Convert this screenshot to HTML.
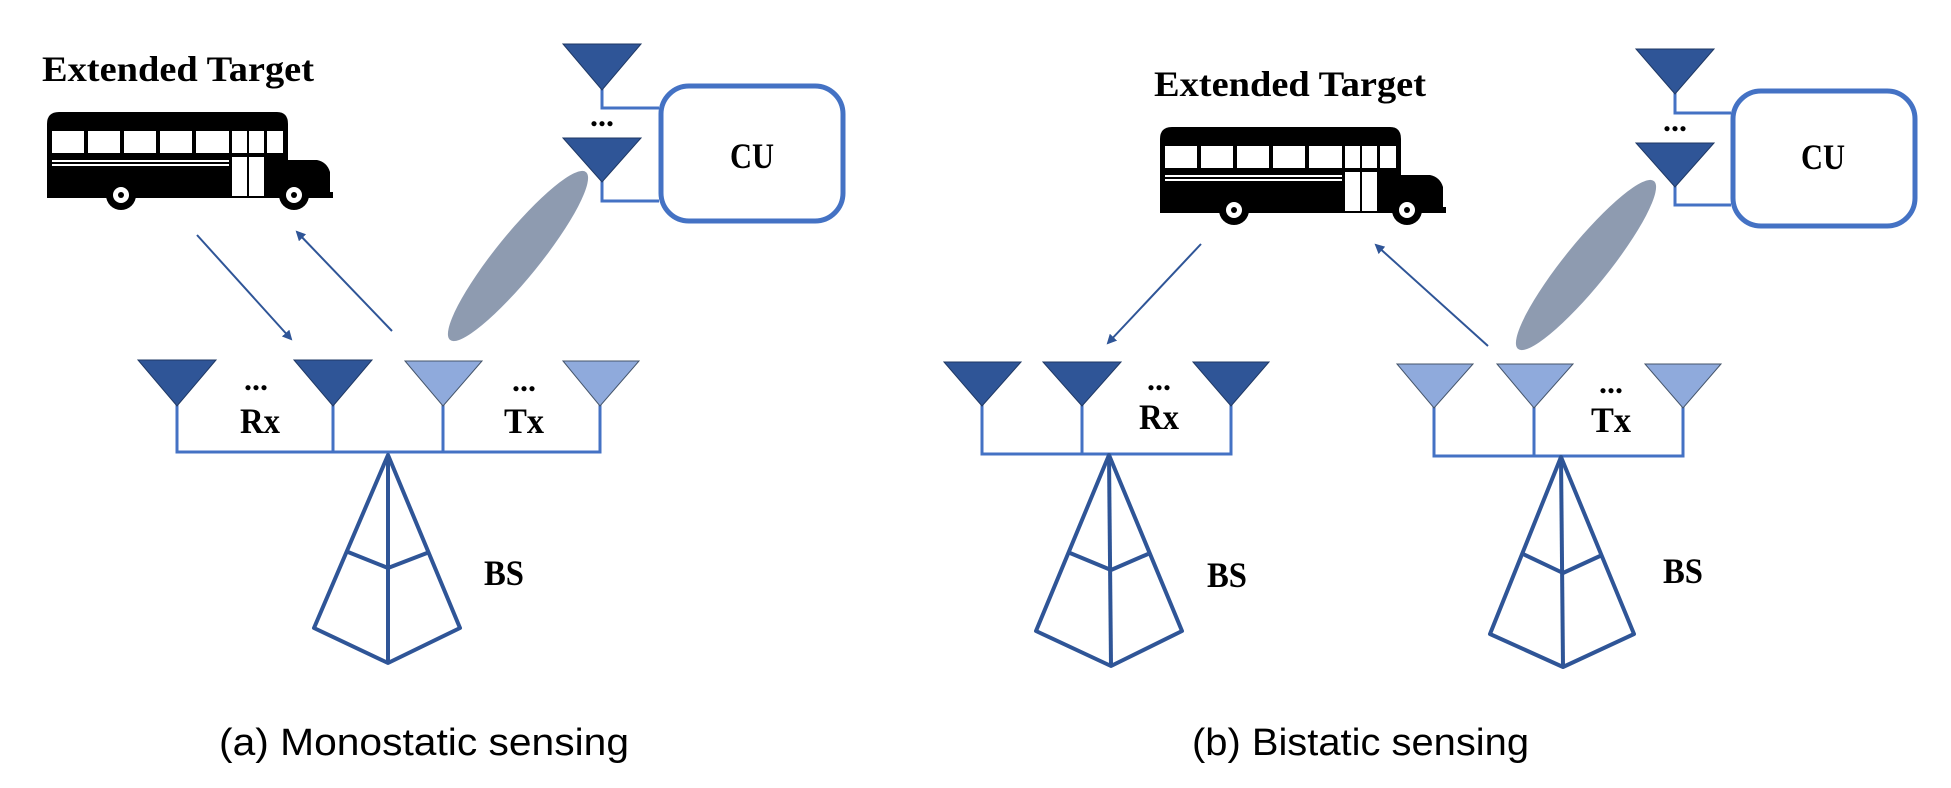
<!DOCTYPE html>
<html><head><meta charset="utf-8"><style>
html,body{margin:0;padding:0;background:#fff;}
svg{display:block;}
</style></head><body>
<svg width="1951" height="788" viewBox="0 0 1951 788" xmlns="http://www.w3.org/2000/svg">
<defs>
<marker id="ah" markerWidth="10" markerHeight="10" refX="8" refY="5" orient="auto" markerUnits="userSpaceOnUse">
<path d="M0,0 L10,5 L0,10 z" fill="#2f5597"/>
</marker>
<g id="bus">
<path d="M0,12 Q0,0 12,0 L230,0 Q241,0 241,12 L241,48 L270,48 Q280,50 283,60 L283,80 L286,80 L286,86 L240,86 L0,86 z" fill="#000"/>
<rect x="5" y="19" width="32" height="22" fill="#fff"/>
<rect x="41" y="19" width="32" height="22" fill="#fff"/>
<rect x="77" y="19" width="32" height="22" fill="#fff"/>
<rect x="113" y="19" width="32" height="22" fill="#fff"/>
<rect x="149" y="19" width="33" height="22" fill="#fff"/>
<rect x="185" y="19" width="15" height="22" fill="#fff"/>
<rect x="202" y="19" width="15" height="22" fill="#fff"/>
<rect x="220" y="19" width="16" height="22" fill="#fff"/>
<rect x="185" y="45" width="15" height="39" fill="#fff"/>
<rect x="202" y="45" width="15" height="39" fill="#fff"/>
<rect x="5" y="48" width="177" height="2" fill="#fff"/>
<rect x="5" y="52" width="177" height="2" fill="#fff"/>
<circle cx="74" cy="83" r="15" fill="#000"/>
<circle cx="74" cy="83" r="8" fill="#fff"/>
<circle cx="74" cy="83" r="3" fill="#000"/>
<circle cx="247" cy="83" r="15" fill="#000"/>
<circle cx="247" cy="83" r="8" fill="#fff"/>
<circle cx="247" cy="83" r="3" fill="#000"/>
</g>
</defs>

<g font-family="Liberation Serif, serif" font-weight="bold" fill="#000">
<text x="42" y="81" font-size="36" textLength="272" lengthAdjust="spacingAndGlyphs">Extended Target</text>
<text x="1154" y="96" font-size="36" textLength="272" lengthAdjust="spacingAndGlyphs">Extended Target</text>
</g>

<use href="#bus" x="47" y="112"/>
<use href="#bus" x="1160" y="127"/>

<g stroke="#4472c4" stroke-width="3" fill="none">
<polyline points="602,88 602,108 659,108"/>
<polyline points="602,178 602,201 659,201"/>
<polyline points="1675,92 1675,113 1731,113"/>
<polyline points="1675,183 1675,205 1731,205"/>
</g>
<g fill="#2f5597" stroke="#1f3864" stroke-width="1">
<polygon points="563,44 641,44 602,90"/>
<polygon points="563,138 641,138 602,182"/>
<polygon points="1636,49 1714,49 1675,94"/>
<polygon points="1636,143 1714,143 1675,187"/>
</g>
<rect x="661" y="86" width="182" height="135" rx="28" fill="none" stroke="#4472c4" stroke-width="5"/>
<rect x="1733" y="91" width="182" height="135" rx="28" fill="none" stroke="#4472c4" stroke-width="5"/>

<ellipse cx="518" cy="256" rx="108" ry="22" fill="#8e9bb0" transform="rotate(-51 518 256)"/>
<ellipse cx="1586" cy="265" rx="108" ry="22" fill="#8e9bb0" transform="rotate(-51 1586 265)"/>

<g stroke="#2f5597" stroke-width="2" marker-end="url(#ah)">
<line x1="197" y1="235" x2="291" y2="339"/>
<line x1="392" y1="331" x2="297" y2="232"/>
<line x1="1201" y1="244" x2="1108" y2="343"/>
<line x1="1488" y1="346" x2="1376" y2="245"/>
</g>

<g stroke="#4472c4" stroke-width="3" fill="none">
<polyline points="177,400 177,452 600,452 600,400"/>
<line x1="333" y1="400" x2="333" y2="452"/>
<line x1="443" y1="400" x2="443" y2="452"/>
<polyline points="982,400 982,454 1231,454 1231,400"/>
<line x1="1082" y1="400" x2="1082" y2="454"/>
<polyline points="1434,400 1434,456 1683,456 1683,400"/>
<line x1="1534" y1="400" x2="1534" y2="456"/>
</g>
<g fill="#2f5597" stroke="#1f3864" stroke-width="1">
<polygon points="138,360 216,360 177,406"/>
<polygon points="294,360 372,360 333,406"/>
<polygon points="944,362 1021,362 982,406"/>
<polygon points="1043,362 1121,362 1082,406"/>
<polygon points="1193,362 1269,362 1231,406"/>
</g>
<g fill="#8faadc" stroke="#44546a" stroke-width="1">
<polygon points="405,361 482,361 443,406"/>
<polygon points="563,361 639,361 600,406"/>
<polygon points="1397,364 1473,364 1434,408"/>
<polygon points="1497,364 1573,364 1534,408"/>
<polygon points="1645,364 1721,364 1683,408"/>
</g>

<g stroke="#2f5597" stroke-width="4" fill="none" stroke-linejoin="round">
<polygon points="388,455 460,628 388,663 314,628"/>
<line x1="388" y1="455" x2="388" y2="663"/>
<polyline points="348,552 388,568 427,553"/>
<polygon points="1109,455 1182,631 1111,666 1036,631"/>
<line x1="1109" y1="455" x2="1111" y2="666"/>
<polyline points="1070,553 1111,570 1148,554"/>
<polygon points="1561,457 1634,634 1563,667 1490,634"/>
<line x1="1561" y1="457" x2="1563" y2="667"/>
<polyline points="1523,554 1563,573 1600,556"/>
</g>

<g font-family="Liberation Serif, serif" font-weight="bold" fill="#000" text-anchor="middle">
<text x="752" y="168" font-size="36" textLength="44" lengthAdjust="spacingAndGlyphs">CU</text>
<text x="1823" y="169" font-size="36" textLength="44" lengthAdjust="spacingAndGlyphs">CU</text>
<text x="602" y="126" font-size="32">...</text>
<text x="1675" y="131" font-size="32">...</text>
<text x="256" y="390" font-size="32">...</text>
<text x="524" y="391" font-size="32">...</text>
<text x="1159" y="390" font-size="32">...</text>
<text x="1611" y="393" font-size="32">...</text>
<text x="260" y="433" font-size="36" textLength="40" lengthAdjust="spacingAndGlyphs">Rx</text>
<text x="524" y="433" font-size="36" textLength="40" lengthAdjust="spacingAndGlyphs">Tx</text>
<text x="1159" y="429" font-size="36" textLength="40" lengthAdjust="spacingAndGlyphs">Rx</text>
<text x="1611" y="432" font-size="36" textLength="40" lengthAdjust="spacingAndGlyphs">Tx</text>
<text x="504" y="585" font-size="36" textLength="40" lengthAdjust="spacingAndGlyphs">BS</text>
<text x="1227" y="587" font-size="36" textLength="40" lengthAdjust="spacingAndGlyphs">BS</text>
<text x="1683" y="583" font-size="36" textLength="40" lengthAdjust="spacingAndGlyphs">BS</text>
</g>

<g font-family="Liberation Sans, sans-serif" fill="#000" font-size="38">
<text x="219" y="755" textLength="410" lengthAdjust="spacingAndGlyphs">(a) Monostatic sensing</text>
<text x="1192" y="755" textLength="337" lengthAdjust="spacingAndGlyphs">(b) Bistatic sensing</text>
</g>
</svg>
</body></html>
